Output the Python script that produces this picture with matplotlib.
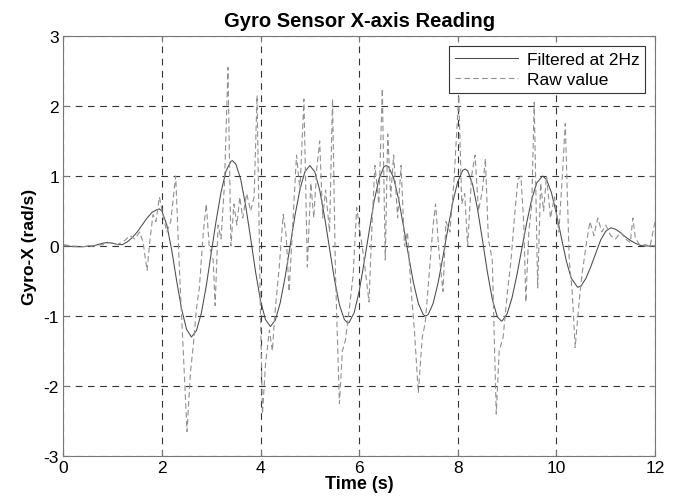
import numpy as np
import matplotlib
matplotlib.use("Agg")
import matplotlib.pyplot as plt

# Filtered (2 Hz) gyro reading
filt_t = [0.0, 0.1, 0.2, 0.3, 0.4, 0.5, 0.6, 0.7, 0.8, 0.9, 1.0, 1.1, 1.2, 1.3, 1.4,
          1.5, 1.6, 1.7, 1.8, 1.9, 1.95, 2.0, 2.1, 2.2, 2.3, 2.4, 2.5, 2.6, 2.7, 2.8,
          2.9, 3.0, 3.1, 3.2, 3.3, 3.4, 3.43, 3.5, 3.6, 3.7, 3.8, 3.9, 4.0, 4.1, 4.2,
          4.3, 4.4, 4.5, 4.6, 4.7, 4.8, 4.9, 5.0, 5.1, 5.2, 5.3, 5.4, 5.5, 5.6, 5.7,
          5.77, 5.8, 5.9, 6.0, 6.1, 6.2, 6.3, 6.4, 6.5, 6.55, 6.6, 6.7, 6.8, 6.9, 7.0,
          7.1, 7.2, 7.3, 7.35, 7.4, 7.5, 7.6, 7.7, 7.8, 7.9, 8.0, 8.1, 8.15, 8.2, 8.3,
          8.4, 8.5, 8.6, 8.7, 8.8, 8.88, 8.9, 9.0, 9.1, 9.2, 9.3, 9.4, 9.5, 9.6, 9.72,
          9.8, 9.9, 10.0, 10.1, 10.2, 10.3, 10.43, 10.5, 10.6, 10.7, 10.8, 10.9, 11.0,
          11.1, 11.2, 11.3, 11.4, 11.5, 11.6, 11.7, 11.8, 11.9, 12.0]
filt_v = [0.0, 0.0, -0.01, -0.01, -0.01, 0.0, 0.0, 0.02, 0.04, 0.05, 0.04, 0.02, 0.02, 0.06, 0.12,
          0.2, 0.3, 0.4, 0.48, 0.52, 0.53, 0.5, 0.3, -0.06, -0.5, -0.9, -1.19, -1.3, -1.21, -0.96,
          -0.57, -0.11, 0.36, 0.77, 1.07, 1.21, 1.22, 1.17, 0.95, 0.57, 0.11, -0.37, -0.78, -1.05, -1.15,
          -1.06, -0.81, -0.44, 0.0, 0.44, 0.81, 1.06, 1.15, 1.06, 0.8, 0.41, -0.04, -0.48, -0.84, -1.05,
          -1.1, -1.09, -0.95, -0.65, -0.24, 0.2, 0.63, 0.95, 1.13, 1.15, 1.13, 0.97, 0.67, 0.28, -0.13,
          -0.52, -0.82, -0.98, -1.0, -0.98, -0.82, -0.53, -0.15, 0.25, 0.63, 0.92, 1.08, 1.1, 1.075, 0.88,
          0.53, 0.09, -0.37, -0.76, -1.01, -1.07, -1.07, -0.97, -0.74, -0.41, -0.035, 0.34, 0.67, 0.9, 1.0,
          0.95, 0.76, 0.46, 0.12, -0.21, -0.46, -0.59, -0.57, -0.46, -0.29, -0.1, 0.09, 0.21,
          0.26, 0.24, 0.19, 0.13, 0.08, 0.04, 0.01, 0.0, 0.0, 0.0]

# Raw gyro reading
raw_t = [0.0, 0.2, 0.4, 0.6, 0.8, 0.95, 1.1, 1.25, 1.35, 1.45, 1.55, 1.62, 1.7, 1.76, 1.82,
         1.88, 1.95, 2.02, 2.1, 2.18, 2.28, 2.36, 2.44, 2.51, 2.58, 2.64, 2.7, 2.76, 2.84, 2.9,
         2.96, 3.04, 3.08, 3.14, 3.2, 3.27, 3.34, 3.4, 3.46, 3.52, 3.58, 3.64, 3.72, 3.8, 3.87,
         3.93, 4.0, 4.04, 4.1, 4.18, 4.24, 4.3, 4.38, 4.46, 4.52, 4.58, 4.66, 4.73, 4.8, 4.88,
         4.95, 5.02, 5.08, 5.14, 5.2, 5.26, 5.32, 5.4, 5.46, 5.52, 5.6, 5.66, 5.72, 5.8, 5.88,
         5.95, 6.02, 6.1, 6.2, 6.26, 6.32, 6.4, 6.47, 6.53, 6.58, 6.64, 6.7, 6.78, 6.85, 6.92,
         6.98, 7.05, 7.12, 7.2, 7.28, 7.34, 7.42, 7.5, 7.55, 7.62, 7.7, 7.76, 7.84, 7.92, 8.02,
         8.08, 8.14, 8.2, 8.28, 8.35, 8.42, 8.5, 8.56, 8.62, 8.7, 8.78, 8.84, 8.92, 9.0, 9.08,
         9.16, 9.22, 9.28, 9.34, 9.38, 9.44, 9.5, 9.55, 9.62, 9.68, 9.74, 9.8, 9.88, 9.96, 10.05,
         10.12, 10.18, 10.26, 10.32, 10.38, 10.46, 10.52, 10.6, 10.68, 10.76, 10.84, 10.92, 11.0, 11.1, 11.2,
         11.3, 11.4, 11.5, 11.55, 11.6, 11.7, 11.8, 11.9, 12.0]
raw_v = [0.02, 0.0, -0.01, 0.0, 0.02, 0.05, 0.02, 0.08, 0.15, 0.1, 0.2, 0.05, -0.35, 0.1, 0.45,
         0.35, 0.7, 0.45, 0.2, 0.35, 1.0, -0.4, -1.6, -2.65, -1.8, -1.4, -0.9, -0.6, 0.2, 0.6,
         0.0, -0.2, -0.85, 0.3, 0.1, 0.9, 2.55, 0.0, 0.6, 0.3, 0.7, 0.4, 0.75, 0.5, 0.7,
         2.15, -1.0, -2.4, -1.7, -1.2, -1.5, -0.9, -0.3, 0.45, 0.15, -0.65, 0.4, 1.3, 0.8, 2.1,
         -0.3, 0.9, 0.4, 1.1, 1.5, 0.4, 0.8, 0.2, 2.1, -0.4, -2.25, -1.5, -1.35, -0.9, -0.4,
         0.55, 0.2, -0.2, -0.8, 0.3, 1.15, 0.6, 2.25, -0.2, 1.6, 0.7, 1.3, 0.4, 1.15, 0.0,
         0.2, -0.6, -1.2, -2.1, -1.3, -1.1, -0.4, 0.3, 0.6, -0.1, -0.65, 0.35, 0.2, 0.9, 2.15,
         0.6, 0.75, 0.0, 1.0, 1.3, 0.5, 0.8, 1.25, 0.1, -0.2, -2.4, -1.5, -1.3, -0.7, -0.2,
         0.5, 0.95, 1.0, 0.3, -0.8, 0.2, 0.6, 2.05, -0.6, 0.9, 0.5, 1.0, 0.4, 0.7, 0.2,
         1.0, 1.75, -0.2, -0.65, -1.45, -0.8, -0.4, 0.0, 0.35, 0.15, 0.4, 0.2, 0.3, 0.15, 0.1,
         0.2, 0.1, 0.05, 0.4, 0.12, 0.0, 0.02, 0.0, 0.35]

plt.rcParams['font.family'] = ['Liberation Sans', 'DejaVu Sans']
plt.rcParams['axes.unicode_minus'] = False

fig = plt.figure(figsize=(6.8, 5.02), dpi=100)
ax = fig.add_axes([0.093, 0.0896, 0.8703, 0.8367])

ax.plot(filt_t, filt_v, '-', color='#4a4a4a', linewidth=0.75, label='Filtered at 2Hz')
ax.plot(raw_t, raw_v, '--', color='#909090', linewidth=0.8, dashes=(5, 3), label='Raw value')

ax.set_xlim(0, 12)
ax.set_ylim(-3, 3)
ax.set_xticks(np.arange(0, 13, 2))
ax.set_yticks(np.arange(-3, 4, 1))
ax.grid(True, color='#333333', linestyle=(0, (6, 5)), linewidth=0.8)
ax.tick_params(direction='in', length=4, labelsize=12.5, color='#777777', pad=3,
               top=True, right=True)
for s in ax.spines.values():
    s.set_color('#777777')
    s.set_linewidth(0.8)

ax.set_title('Gyro Sensor X-axis Reading', fontsize=14.5, fontweight='bold', pad=7)
ax.set_xlabel('Time (s)', fontsize=13, fontweight='bold', labelpad=0)
ax.set_ylabel('Gyro-X (rad/s)', fontsize=12.5, fontweight='bold', labelpad=5)

leg = ax.legend(loc='upper right', fontsize=12.5, fancybox=False, framealpha=1,
                edgecolor='#333333', borderaxespad=0.55, handlelength=3.6,
                borderpad=0.35, labelspacing=0.3, handletextpad=0.5)
leg.get_frame().set_linewidth(0.8)

fig.savefig('out.png', dpi=100)
